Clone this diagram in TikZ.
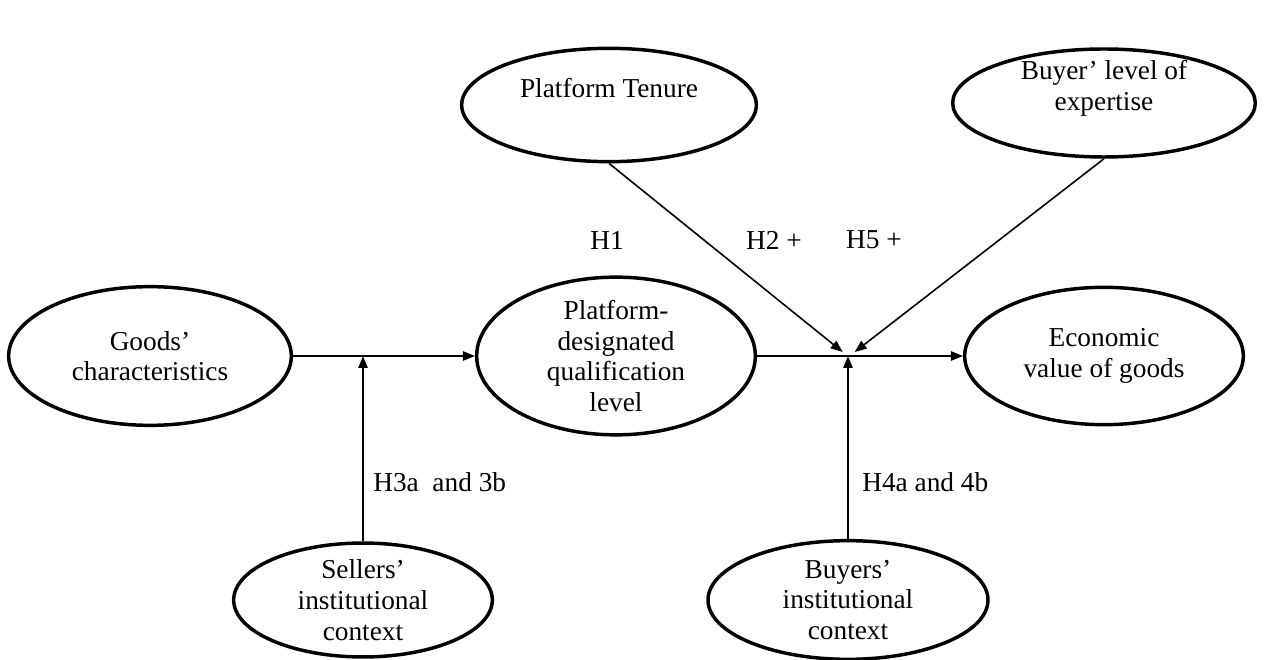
\documentclass[tikz,border=0pt]{standalone}
\usepackage{fontspec}
\setmainfont{Liberation Serif}
\usetikzlibrary{shapes.geometric,arrows.meta,positioning}

\tikzset{var/.style = {draw, ellipse, line width=2.6pt, align=center, inner sep=0pt, font=\fontsize{20.5}{23}\selectfont}}

\begin{document}
\begin{tikzpicture}[x=0.75pt, y=0.75pt]
            % Define node styles
            \tikzstyle{link} = [line width=1.2pt, -{Triangle[length=9pt, width=7pt]}]
            \tikzstyle{hyp} = [inner sep=0pt, font=\fontsize{20.5}{23}\selectfont]

            \useasboundingbox (0,0) rectangle (1267,660);

            % Middle row (main path)
            \node[var, minimum width=212pt, minimum height=104pt] (goods) at (150,304) {Goods'\\characteristics};
            \node[var, minimum width=209pt, minimum height=103pt] (qual) at (616,304) {Platform-\\designated\\qualification\\level};
            \node[var, minimum width=209pt, minimum height=103pt] (econ) at (1104,304) {Economic\\value of goods};

            % Top row (text sits above the centre)
            \node[var, minimum width=221pt, minimum height=85pt, label={[hyp, yshift=12.5pt]center:Platform Tenure}] (tenure) at (609,555) {};
            \node[var, minimum width=227pt, minimum height=81pt, label={[hyp, align=center, yshift=11pt]center:Buyer' level of\\expertise}] (expert) at (1104,557) {};

            % Bottom row (institutional context)
            \node[var, minimum width=194pt, minimum height=85pt] (sellers) at (363,60) {Sellers'\\institutional\\context};
            \node[var, minimum width=210pt, minimum height=89pt] (buyers) at (848,60) {Buyers'\\institutional\\context};

            % Junction on the second arrow
            \coordinate (j) at (buyers.north |- qual.east);

            % Arrows
            \draw[link] (goods.east) -- (qual.west);
            \draw[link] (qual.east) -- (econ.west);
            \draw[link] (sellers.north) -- (sellers.north |- goods.east);
            \draw[link] (buyers.north) -- (j);
            \draw[link] (tenure.south) -- ([xshift=-4pt, yshift=3pt]j);
            \draw[link] (expert.south) -- ([xshift=5pt, yshift=3pt]j);

            % Hypothesis labels
            \node[hyp] (h1) at (607,420) {H1};
            \node[hyp] (h2) at (774,420) {H2 +};
            \node[hyp] (h5) at (874,420) {H5 +};
            \node[hyp, anchor=west] (h3) at (373,178) {H3a\ \ and 3b};
            \node[hyp, anchor=west] (h4) at (862,178) {H4a and 4b};

        \end{tikzpicture}
\end{document}
